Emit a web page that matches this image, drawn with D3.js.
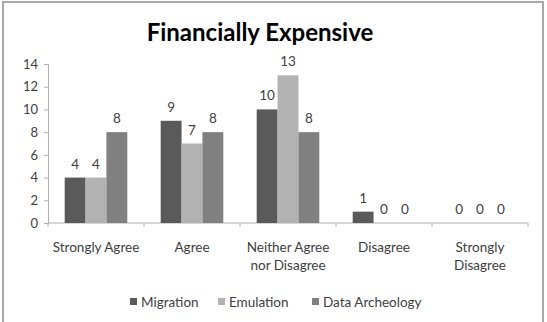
<!DOCTYPE html>
<html><head><meta charset="utf-8">
<script src="https://cdn.jsdelivr.net/npm/d3@7"></script>
<style>body{margin:0;background:#fff}svg{display:block}</style>
</head><body>
<svg id="c" width="547" height="322"></svg>
<script>
const categories = [["Strongly Agree"], ["Agree"], ["Neither Agree", "nor Disagree"], ["Disagree"], ["Strongly", "Disagree"]];
const seriesNames = ["Migration", "Emulation", "Data Archeology"];
const migration = [4, 9, 10, 1, 0];
const emulation = [4, 7, 13, 0, 0];
const dataArcheology = [8, 8, 8, 0, 0];
const yTicks = [0, 2, 4, 6, 8, 10, 12, 14];
const colors = ["#5a5a5a", "#b2b2b2", "#808080"];
const series = [migration, emulation, dataArcheology];

const font = "Lato, 'Open Sans', sans-serif";
const svg = d3.select("#c");
svg.append("rect").attr("x", 3).attr("y", 2).attr("width", 540).attr("height", 330)
  .attr("fill", "#fff").attr("stroke", "#a8a8a8").attr("stroke-width", 2);

svg.append("text").attr("x", 260).attr("y", 41).attr("text-anchor", "middle")
  .attr("font-family", font).attr("font-weight", "bold").attr("font-size", 24).attr("fill", "#000")
  .text("Financially Expensive");

const x0 = d3.scaleBand().domain(d3.range(5)).range([48, 528]).paddingInner(0).paddingOuter(0);
const x1 = d3.scaleBand().domain(d3.range(3)).range([0, x0.bandwidth()]).paddingInner(0).paddingOuter(0.8);
const y = d3.scaleLinear().domain([0, 14]).range([223, 64]);

// y axis
const ya = svg.append("g").attr("transform", "translate(48,0)")
  .call(d3.axisLeft(y).tickValues(yTicks).tickSize(4).tickPadding(6));
ya.select(".domain").attr("stroke", "#b0b0b0");
ya.selectAll(".tick line").attr("stroke", "#b0b0b0");
ya.selectAll("text").attr("font-family", font).attr("font-size", 13).attr("fill", "#404040");

// x axis
const xa = svg.append("g").attr("transform", "translate(0,223)");
xa.append("line").attr("x1", 48).attr("x2", 528).attr("stroke", "#b0b0b0");
d3.range(6).forEach(i => {
  const xx = i < 5 ? x0(i) : x0(4) + x0.bandwidth();
  xa.append("line").attr("x1", xx).attr("x2", xx).attr("y1", 0).attr("y2", 4).attr("stroke", "#b0b0b0");
});
categories.forEach((lines, i) => {
  const t = xa.append("text").attr("text-anchor", "middle")
    .attr("font-family", font).attr("font-size", 13.5).attr("fill", "#404040");
  lines.forEach((l, j) => t.append("tspan").attr("x", x0(i) + x0.bandwidth() / 2).attr("y", 29 + j * 18).text(l));
});

// bars
series.forEach((vals, s) => {
  const g = svg.append("g");
  g.selectAll("rect").data(vals).join("rect")
    .attr("x", (d, i) => x0(i) + x1(s)).attr("width", x1.bandwidth())
    .attr("y", d => y(d)).attr("height", d => y(0) - y(d)).attr("fill", colors[s]);
  g.selectAll("text").data(vals).join("text")
    .attr("x", (d, i) => x0(i) + x1(s) + x1.bandwidth() / 2).attr("y", d => y(d) - 9)
    .attr("text-anchor", "middle").attr("font-family", font).attr("font-size", 13.5).attr("fill", "#404040")
    .text(d => d);
});

// legend
const legX = [130, 218, 312];
seriesNames.forEach((n, i) => {
  svg.append("rect").attr("x", legX[i]).attr("y", 298).attr("width", 7).attr("height", 7).attr("fill", colors[i]);
  svg.append("text").attr("x", legX[i] + 11).attr("y", 307).attr("font-family", font).attr("font-size", 13.5)
    .attr("fill", "#404040").text(n);
});
</script>
</body></html>
